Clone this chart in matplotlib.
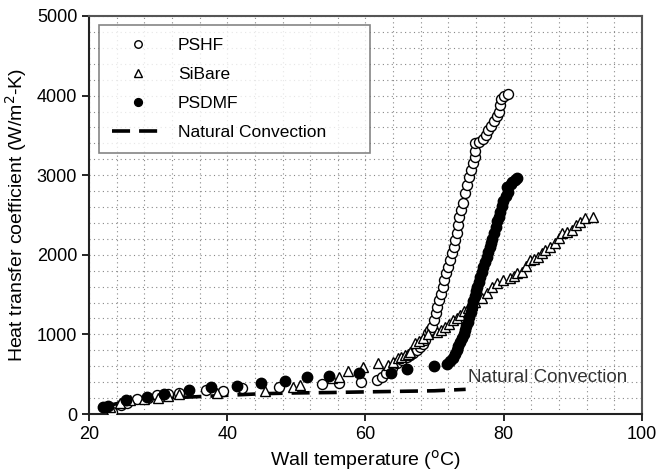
import matplotlib
matplotlib.use('Agg')
import matplotlib.pyplot as plt
from matplotlib.ticker import MultipleLocator

plt.rcParams['font.family'] = ['Liberation Sans', 'DejaVu Sans']

# PSHF (open circles)
pshf_t = [23.3, 24.6, 25.5, 27.0, 28.5, 29.8, 31.5, 33.0, 36.9, 39.4, 42.2, 47.5, 53.7, 56.2, 59.4,
          61.7, 62.4, 63.0, 63.8, 64.6, 65.3, 66.0, 66.5, 66.9, 67.4, 67.9, 68.3, 68.6, 69.0, 69.3,
          69.6, 69.9, 70.2, 70.4, 70.6, 70.9, 71.2, 71.4, 71.7, 72.0, 72.3, 72.5, 72.8, 73.0, 73.2,
          73.4, 73.6, 73.8, 74.1, 74.4, 74.7, 75.0, 75.3, 75.5, 75.8, 75.9, 75.9, 76.5, 77.0, 77.4,
          77.8, 78.2, 78.6, 79.0, 79.3, 79.5, 79.6, 80.0, 80.6]
pshf_h = [30, 110, 140, 185, 200, 240, 250, 260, 300, 290, 330, 340, 375, 390, 400,
          430, 465, 515, 580, 640, 680, 715, 740, 765, 800, 840, 885, 930, 1015, 1050,
          1090, 1180, 1270, 1345, 1430, 1510, 1600, 1680, 1770, 1850, 1935, 2020, 2100, 2190, 2270,
          2370, 2475, 2560, 2650, 2775, 2880, 2980, 3070, 3150, 3230, 3300, 3400, 3420, 3450, 3510,
          3570, 3620, 3680, 3740, 3800, 3880, 3960, 3990, 4020]

# SiBare (open triangles)
sib_t = [23.0, 24.5, 26.0, 28.0, 30.0, 31.5, 33.0, 38.5, 45.5, 49.5, 50.5, 55.2, 56.2, 57.5, 59.7,
         61.8, 63.2, 64.0, 64.7, 65.2, 65.7, 66.1, 66.5, 67.2, 67.8, 68.3, 69.1, 70.4, 71.0, 71.5,
         72.1, 72.7, 73.2, 73.7, 74.3, 74.9, 75.4, 75.9, 76.8, 77.6, 78.3, 79.0, 79.9, 80.9, 81.5,
         82.0, 82.7, 83.3, 83.8, 84.4, 85.0, 85.5, 86.0, 86.7, 87.4, 88.0, 88.5, 89.2, 89.9, 90.5,
         91.0, 91.8, 92.9]
sib_h = [90, 140, 170, 190, 200, 230, 250, 270, 290, 340, 365, 450, 465, 540, 590,
         640, 620, 655, 700, 720, 740, 760, 780, 890, 920, 955, 1000, 1030, 1060, 1090,
         1130, 1180, 1210, 1240, 1290, 1330, 1370, 1410, 1460, 1520, 1590, 1645, 1680, 1710, 1740,
         1770, 1785, 1860, 1935, 1950, 1970, 2020, 2060, 2100, 2150, 2210, 2270, 2290, 2310, 2370,
         2410, 2460, 2475]

# PSDMF (filled circles)
psd_t = [22.0, 22.7, 25.4, 28.4, 30.9, 34.5, 37.6, 41.4, 44.9, 48.4, 51.6, 54.7, 59.1, 63.7, 66.0,
         69.9, 71.8, 72.3, 72.7, 73.0, 73.2, 73.4, 73.7, 74.0, 74.2, 74.4, 74.6, 74.8, 75.0, 75.2,
         75.4, 75.6, 75.8, 76.0, 76.2, 76.4, 76.6, 76.8, 77.0, 77.3, 77.6, 77.8, 78.0, 78.2, 78.3,
         78.6, 78.9, 79.1, 79.3, 79.5, 79.7, 79.9, 80.3, 80.6, 80.5, 81.0, 81.2, 81.6, 81.9]
psd_h = [85, 100, 175, 210, 250, 300, 340, 350, 390, 420, 465, 480, 515, 515, 560,
         600, 630, 660, 700, 760, 800, 850, 900, 950, 1000, 1050, 1100, 1160, 1220, 1280,
         1340, 1420, 1480, 1540, 1600, 1660, 1720, 1790, 1850, 1910, 1970, 2030, 2100, 2150, 2200,
         2280, 2350, 2420, 2480, 2540, 2610, 2680, 2740, 2790, 2850, 2890, 2915, 2940, 2960]

# Natural convection (dashed)
nc_t = [22, 24, 26, 28, 30, 32, 35, 40, 45, 50, 55, 60, 65, 70, 72, 74.5]
nc_h = [90, 130, 160, 180, 195, 205, 215, 235, 255, 265, 270, 278, 285, 292, 300, 310]

fig = plt.figure(figsize=(6.57, 4.73), dpi=100)
ax = fig.add_axes([0.1355, 0.1247, 0.8415, 0.8415])

ax.plot(nc_t, nc_h, color='black', lw=2.6, dashes=(5, 2.5), label='Natural Convection', zorder=2)
ax.plot(pshf_t, pshf_h, 'o', ms=7.2, mfc='white', mec='black', mew=1.0, label='PSHF', zorder=3)
ax.plot(sib_t, sib_h, '^', ms=7.2, mfc='white', mec='black', mew=1.0, label='SiBare', zorder=3)
ax.plot(psd_t, psd_h, 'o', ms=7.5, mfc='black', mec='black', label='PSDMF', zorder=4)

ax.text(74.8, 455, 'Natural Convection', fontsize=13.5, color='#333333', va='center', ha='left')

ax.set_xlim(20, 100)
ax.set_ylim(0, 5000)
ax.xaxis.set_major_locator(MultipleLocator(20))
ax.yaxis.set_major_locator(MultipleLocator(1000))
ax.xaxis.set_minor_locator(MultipleLocator(4))
ax.yaxis.set_minor_locator(MultipleLocator(200))
ax.grid(True, which='both', linestyle=(0, (1, 3)), color='#888888', lw=0.8)
ax.set_axisbelow(True)
ax.tick_params(which='major', direction='out', length=5, width=1.2, labelsize=13)
ax.tick_params(which='minor', length=0)

for s in ['left', 'bottom']:
    ax.spines[s].set_linewidth(1.5)
    ax.spines[s].set_color('#222222')
for s in ['top', 'right']:
    ax.spines[s].set_linewidth(1.5)
    ax.spines[s].set_color('#555555')

ax.set_xlabel('Wall temperature ($^{\\mathrm{o}}$C)', fontsize=14, labelpad=4)
ax.set_ylabel('Heat transfer coefficient (W/m$^{2}$-K)', fontsize=14, labelpad=6)

h, l = ax.get_legend_handles_labels()
order = [1, 2, 3, 0]
leg = ax.legend([h[i] for i in order], [l[i] for i in order], loc='upper left',
                bbox_to_anchor=(0.018, 0.660, 0.49, 0.317), mode='expand', fontsize=12.5,
                frameon=True, fancybox=False, edgecolor='#666666', handlelength=3.0,
                handletextpad=0.8, labelspacing=0.8, borderpad=0.75, markerscale=0.75,
                borderaxespad=0)
leg.get_frame().set_linewidth(1.2)

fig.savefig('out.png', dpi=100)
